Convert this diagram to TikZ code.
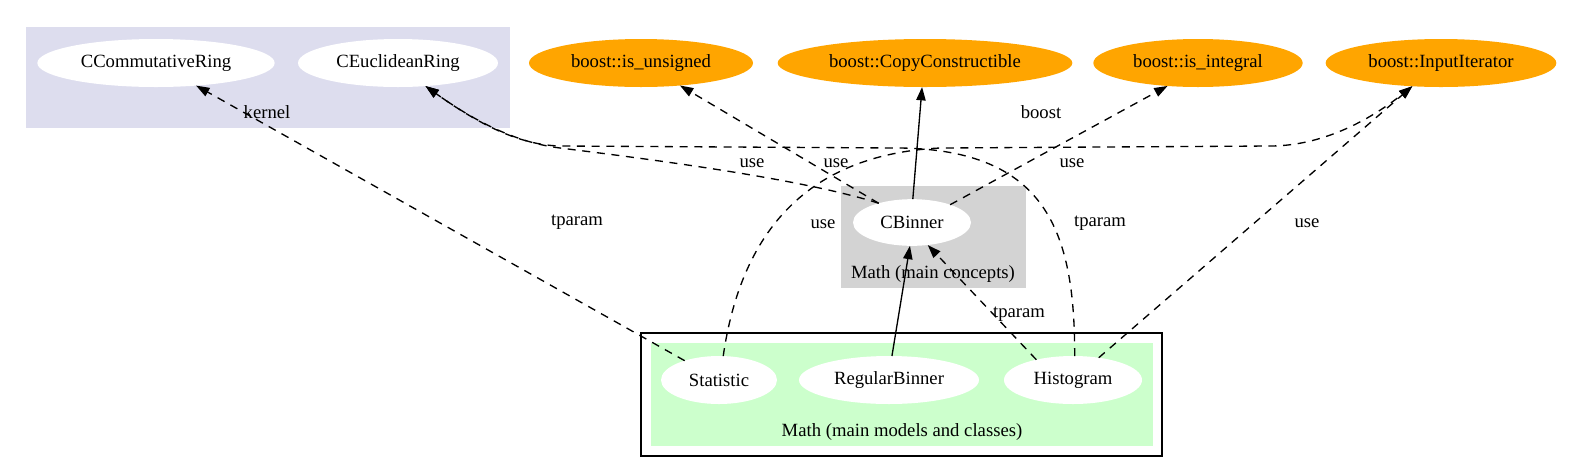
\documentclass[tikz,border=0pt]{standalone}
\usepackage{fontspec}
\setmainfont{Liberation Serif}
\usetikzlibrary{arrows.meta,shapes.geometric}
\definecolor{lav}{RGB}{221,221,238}
\definecolor{lgrey}{RGB}{211,211,211}
\definecolor{lgreen}{RGB}{204,255,204}
\definecolor{orng}{RGB}{255,165,0}
\begin{document}
\begin{tikzpicture}[x=0.75pt,y=-0.75pt,
  font=\fontsize{14}{16}\selectfont,
  nd/.style={ellipse,fill=white,inner sep=0pt,outer sep=0pt,minimum height=36pt},
  ext/.style={nd,fill=orng},
  lbl/.style={inner sep=0pt,outer sep=0pt},
  dep/.style={line width=1pt,dash pattern=on 6pt off 5pt,-{Triangle[length=10pt,width=7pt]}},
  sol/.style={line width=1pt,-{Triangle[length=10pt,width=7pt]}},
]
\useasboundingbox (0,0) rectangle (1593,472);
\fill[white] (0,0) rectangle (1593,472);
% clusters
\fill[lav] (26,27) rectangle (510,128);
\fill[lgrey] (841,186) rectangle (1026,288);
\draw[line width=1.3pt] (641,333) rectangle (1162,456);
\fill[lgreen] (651,343) rectangle (1153,446);
% nodes
\node[nd,minimum width=178pt] (ccr) at (156,63) {CCommutativeRing};
\node[nd,minimum width=150pt] (cer) at (398,63) {CEuclideanRing};
\node[ext,minimum width=168pt] (iu) at (641,63) {boost::is\_unsigned};
\node[ext,minimum width=221pt] (cc) at (925,63) {boost::CopyConstructible};
\node[ext,minimum width=157pt] (iint) at (1198,63) {boost::is\_integral};
\node[ext,minimum width=173pt] (iit) at (1441,63) {boost::InputIterator};
\node[nd,minimum width=88.5pt,minimum height=35pt] (cb) at (912,222.5) {CBinner};
\node[nd,minimum width=87pt] (stat) at (719,380) {Statistic};
\node[nd,minimum width=135pt] (rb) at (889,380) {RegularBinner};
\node[nd,minimum width=103.5pt] (hist) at (1073,380) {Histogram};
\node[lbl] (cl1) at (933,274) {Math (main concepts)};
\node[lbl] (cl2) at (902,432) {Math (main models and classes)};
% edges
\draw[dep] (stat) -- (ccr);
\draw[dep] (cb.150) .. controls (800,178) and (640,158) .. (560,148) .. controls (520,143) and (480,125) .. (cer.-40);
\draw[dep] (hist.86) .. controls (1075,230) and (1045,150) .. (900,148) -- (560,146) .. controls (520,145) and (480,125) .. (cer.-40);
\draw[dep] (stat.80) .. controls (740,240) and (800,155) .. (940,148) -- (1270,146) .. controls (1330,146) and (1380,112) .. (iit.-141);
\draw[dep] (hist) -- (iit.-141);
\draw[dep] (hist.151) -- (cb.-55);
\draw[sol] (rb.83) -- (cb.-95);
\draw[sol] (cb.88) -- (cc.-97);
\draw[dep] (cb.150) -- (iu.-30.5);
\draw[dep] (cb.25) -- (iint.-143);
% labels
\node[lbl] (l1) at (267,112) {kernel};
\node[lbl] (l2) at (577,222) {tparam};
\node[lbl] (l3) at (752,163) {use};
\node[lbl] (l4) at (836,163) {use};
\node[lbl] (l5) at (1041,112) {boost};
\node[lbl] (l6) at (1072,163) {use};
\node[lbl] (l7) at (823,224) {use};
\node[lbl] (l8) at (1100,223) {tparam};
\node[lbl] (l9) at (1307,223) {use};
\node[lbl] (l10) at (1019,314) {tparam};
\end{tikzpicture}
\end{document}
